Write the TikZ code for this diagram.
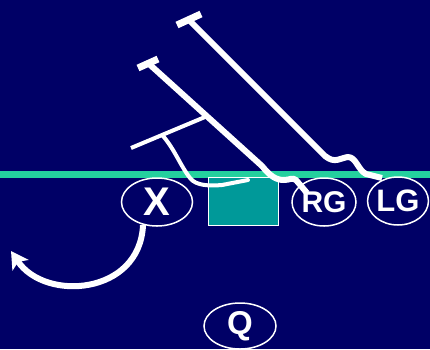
\documentclass[tikz,border=0pt]{standalone}
\usepackage{fontspec}
\setmainfont{Liberation Sans}
\usetikzlibrary{shapes.geometric,arrows.meta}
\definecolor{navy}{RGB}{0,0,102}
\definecolor{fieldline}{RGB}{36,208,158}
\definecolor{tealbox}{RGB}{0,153,153}
\tikzset{
  player/.style={ellipse,draw=white,line width=1.5pt,inner sep=0pt,text=white},
  route/.style={white,line width=6pt,line cap=butt,line join=round},
  capbar/.style={white,line width=7pt},
}
\begin{document}
\begin{tikzpicture}[x=1pt,y=-1pt]
\fill[navy] (0,0) rectangle (430,349);
\useasboundingbox (0,0) rectangle (430,349);
% line of scrimmage
\draw[fieldline,line width=7pt] (0,174.5) -- (430,174.5);
% center box
\node[draw=white,line width=1pt,fill=tealbox,minimum width=70pt,minimum height=48pt,inner sep=0pt] (C) at (243,201) {};
% players
\node[player,minimum width=71pt,minimum height=48pt,font=\fontsize{40}{40}\selectfont\bfseries] (X) at (157,202) {X};
\node[player,minimum width=64pt,minimum height=48pt,font=\fontsize{30}{30}\selectfont\bfseries] (RG) at (324,202) {RG};
\node[player,minimum width=60pt,minimum height=48pt,font=\fontsize{31}{31}\selectfont\bfseries] (LG) at (398,201) {LG};
\node[player,minimum width=72pt,minimum height=46pt,font=\fontsize{33}{33}\selectfont\bfseries] (Q) at (240,326) {Q};
% route 1
\coordinate (r1s) at (189,20);
\coordinate (r1e) at (382,178);
\draw[capbar] (177,25) -- (201,14);
\draw[route] (r1s) -- (325,156) .. controls (335,164) and (340,158) .. (348,157)
  .. controls (356,157) and (358,170) .. (366,174) -- (r1e);
% route 2
\coordinate (r2s) at (148,63);
\coordinate (r2e) at (307,193);
\draw[capbar] (138,68) -- (158,59);
\draw[route] (r2s) -- (262,166) .. controls (270,176) and (276,180) .. (284,180)
  .. controls (290,180) and (292,177) .. (296,180) -- (r2e);
% crossbar and hook
\coordinate (b1) at (131,148);
\coordinate (b2) at (205,117);
\draw[white,line width=4pt] (b1) -- (b2);
\coordinate (h1) at (163,136);
\coordinate (h2) at (248,180);
\draw[white,line width=4pt,line cap=round] (h1) .. controls (175,150) and (180,165) .. (190,178)
  .. controls (196,186) and (210,186) .. (222,185) -- (h2);
% X motion arrow
\coordinate (xs) at (143,225);
\coordinate (xa) at (11,251);
\draw[white,line width=6pt,-{Stealth[length=17pt,width=19pt,inset=4pt]}] (xs) .. controls (140,295) and (45,302) .. (xa);
\end{tikzpicture}
\end{document}
